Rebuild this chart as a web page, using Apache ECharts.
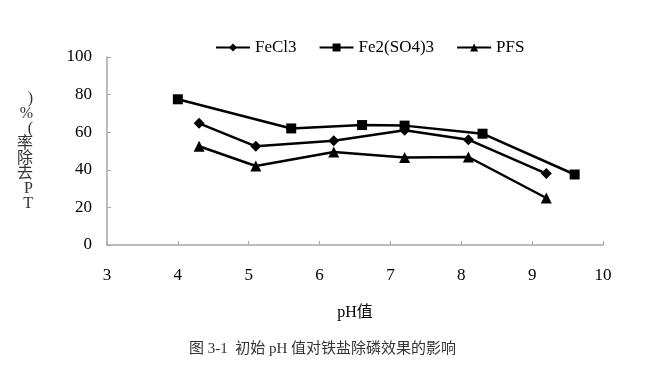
<!DOCTYPE html>
<html><head><meta charset="utf-8">
<script src="https://cdn.jsdelivr.net/npm/echarts@6/dist/echarts.min.js"></script>
<style>html,body{margin:0;padding:0;background:#fff}#c{width:645px;height:367px}</style>
</head><body><div id="c"></div>
<script>
const seriesNames = ['FeCl3', 'Fe2(SO4)3', 'PFS'];
const fecl3 = [[4.3, 64.7], [5.1, 52.5], [6.2, 55.5], [7.2, 61.0], [8.1, 56.0], [9.2, 38.0]];
const fe2so43 = [[4.0, 77.5], [5.6, 62.0], [6.6, 63.8], [7.2, 63.5], [8.3, 59.2], [9.6, 37.5]];
const pfs = [[4.3, 52.5], [5.1, 42.0], [6.2, 49.5], [7.2, 46.5], [8.1, 46.8], [9.2, 25.0]];
const xTicks = [3, 10, 1];
const yTicks = [0, 100, 20];
const xName = 'pH值';
const yName = ')\n%\n(\n率\n除\n去\nP\nT';
const caption = '图 3-1  初始 pH 值对铁盐除磷效果的影响';

const serif = 'Liberation Serif, "Noto Sans CJK SC", serif';
const chart = echarts.init(document.getElementById('c'), null, {renderer: 'canvas'});
const mk = (name, data, symbol, size) => ({
  name, type: 'line', data, symbol, symbolSize: size,
  lineStyle: {color: '#000', width: 2.5},
  itemStyle: {color: '#000'},
  emphasis: {disabled: true}, animation: false
});
chart.setOption({
  animation: false,
  backgroundColor: '#fff',
  grid: {left: 107, right: 42, top: 57, bottom: 122, containLabel: false},
  legend: {
    data: seriesNames, top: 34, left: 210, itemWidth: 34, itemHeight: 10, itemGap: 22,
    textStyle: {fontFamily: serif, fontSize: 17, color: '#000'}
  },
  xAxis: {
    type: 'value', min: xTicks[0], max: xTicks[1], interval: xTicks[2],
    name: xName, nameLocation: 'middle', nameGap: 60,
    nameTextStyle: {fontFamily: serif, fontSize: 16, color: '#000'},
    axisLine: {lineStyle: {color: '#a6a6a6', width: 1.5}},
    axisTick: {inside: true, length: 4, lineStyle: {color: '#a6a6a6'}},
    splitLine: {show: false},
    axisLabel: {fontFamily: serif, fontSize: 17, color: '#000', margin: 22}
  },
  yAxis: {
    type: 'value', min: yTicks[0], max: yTicks[1], interval: yTicks[2],
    name: yName, nameLocation: 'middle', nameGap: 74, nameRotate: 0,
    nameTextStyle: {fontFamily: serif, fontSize: 16, color: '#333', lineHeight: 15, padding: [0, 0, 18, 0]},
    axisLine: {show: true, lineStyle: {color: '#a6a6a6', width: 1.5}},
    axisTick: {show: true, inside: true, length: 4, lineStyle: {color: '#a6a6a6'}},
    splitLine: {show: false},
    axisLabel: {fontFamily: serif, fontSize: 17, color: '#000', margin: 15}
  },
  graphic: [{
    type: 'text', left: 'center', top: 342,
    style: {text: caption, fontFamily: serif, fontSize: 15, fill: '#333'}
  }],
  series: [
    mk(seriesNames[0], fecl3, 'diamond', 11),
    mk(seriesNames[1], fe2so43, 'rect', 10),
    mk(seriesNames[2], pfs, 'triangle', 11)
  ]
});
</script></body></html>
